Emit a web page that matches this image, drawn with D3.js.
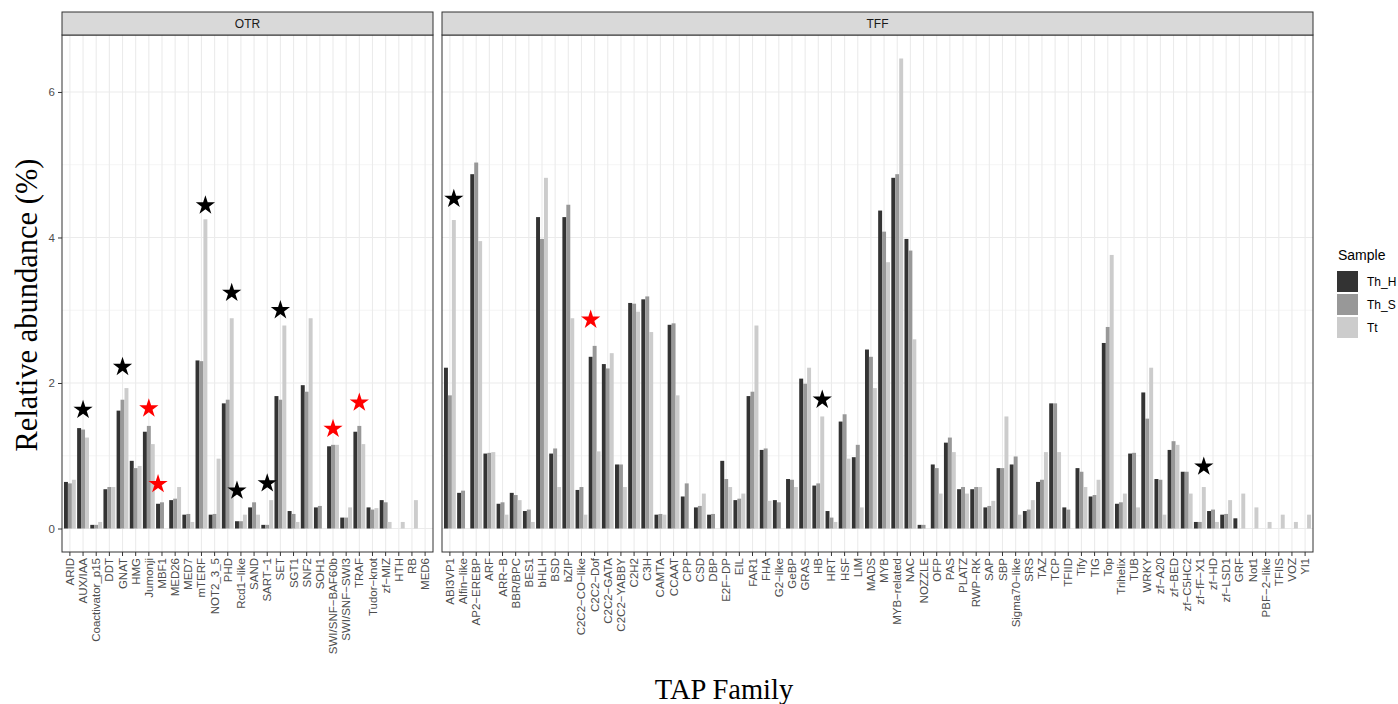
<!DOCTYPE html>
<html>
<head>
<meta charset="utf-8">
<script src="https://cdn.jsdelivr.net/npm/d3@7"></script>
<style>
  body { margin: 0; background: #fff; }
</style>
</head>
<body>
<div id="chart"></div>
<script>
// samples and their grey fills (scale_fill_grey)
const samples = ['Th_H', 'Th_S', 'Tt'];

// OTR families
const otrFamilies = ['ARID', 'AUX/IAA', 'Coactivator_p15', 'DDT', 'GNAT', 'HMG', 'Jumonji', 'MBF1', 'MED26', 'MED7',
  'mTERF', 'NOT2_3_5', 'PHD', 'Rcd1-like', 'SAND', 'SART-1', 'SET', 'SGT1', 'SNF2', 'SOH1',
  'SWI/SNF-BAF60b', 'SWI/SNF-SWI3', 'TRAF', 'Tudor-knot', 'zf-MIZ', 'HTH', 'RB', 'MED6'];
const otrThH = [0.64, 1.38, 0.05, 0.54, 1.62, 0.93, 1.33, 0.34, 0.39, 0.19,
  2.31, 0.19, 1.72, 0.10, 0.29, 0.05, 1.82, 0.24, 1.97, 0.29,
  1.13, 0.15, 1.33, 0.29, 0.39, 0, 0, 0];
const otrThS = [0.62, 1.36, 0.05, 0.57, 1.77, 0.83, 1.41, 0.36, 0.41, 0.20,
  2.30, 0.20, 1.77, 0.10, 0.36, 0.05, 1.77, 0.20, 1.88, 0.31,
  1.15, 0.15, 1.41, 0.26, 0.36, 0, 0, 0];
const otrTt = [0.67, 1.25, 0.09, 0.57, 1.93, 0.86, 1.16, 0, 0.57, 0.09,
  4.25, 0.96, 2.89, 0.19, 0.19, 0.39, 2.79, 0.09, 2.89, 0,
  1.15, 0.29, 1.16, 0.28, 0.09, 0.09, 0.39, 0];

// TFF families
const tffFamilies = ['ABI3VP1', 'Alfin-like', 'AP2-EREBP', 'ARF', 'ARR-B', 'BBR/BPC', 'BES1', 'bHLH', 'BSD', 'bZIP',
  'C2C2-CO-like', 'C2C2-Dof', 'C2C2-GATA', 'C2C2-YABBY', 'C2H2', 'C3H', 'CAMTA', 'CCAAT', 'CPP', 'CSD',
  'DBP', 'E2F-DP', 'EIL', 'FAR1', 'FHA', 'G2-like', 'GeBP', 'GRAS', 'HB', 'HRT',
  'HSF', 'LIM', 'MADS', 'MYB', 'MYB-related', 'NAC', 'NOZZLE', 'OFP', 'PAS', 'PLATZ',
  'RWP-RK', 'SAP', 'SBP', 'Sigma70-like', 'SRS', 'TAZ', 'TCP', 'TFIID', 'Tify', 'TIG',
  'Top', 'Trihelix', 'TUB', 'WRKY', 'zf-A20', 'zf-BED', 'zf-C5HC2', 'zf-fF-X1', 'zf-HD', 'zf-LSD1',
  'GRF', 'Not1', 'PBF-2-like', 'TFIIS', 'VOZ', 'Yl1'];
const tffThH = [2.21, 0.49, 4.87, 1.03, 0.34, 0.49, 0.24, 4.28, 1.03, 4.28,
  0.53, 2.36, 2.26, 0.88, 3.10, 3.15, 0.19, 2.80, 0.44, 0.29,
  0.19, 0.93, 0.39, 1.82, 1.08, 0.39, 0.68, 2.06, 0.59, 0.24,
  1.47, 0.98, 2.46, 4.37, 4.82, 3.98, 0.05, 0.88, 1.18, 0.54,
  0.54, 0.29, 0.83, 0.88, 0.24, 0.64, 1.72, 0.29, 0.83, 0.44,
  2.55, 0.34, 1.03, 1.87, 0.68, 1.08, 0.78, 0.09, 0.24, 0.19,
  0.14, 0, 0, 0, 0, 0];
const tffThS = [1.83, 0.52, 5.03, 1.04, 0.36, 0.46, 0.26, 3.98, 1.10, 4.45,
  0.57, 2.51, 2.20, 0.88, 3.09, 3.19, 0.20, 2.82, 0.62, 0.31,
  0.20, 0.68, 0.41, 1.88, 1.10, 0.36, 0.67, 1.99, 0.62, 0.15,
  1.57, 1.15, 2.36, 4.08, 4.87, 3.82, 0.05, 0.83, 1.25, 0.57,
  0.57, 0.31, 0.83, 0.99, 0.26, 0.67, 1.72, 0.26, 0.78, 0.46,
  2.77, 0.36, 1.04, 1.51, 0.67, 1.20, 0.78, 0.09, 0.26, 0.20,
  0, 0, 0, 0, 0, 0];
const tffTt = [4.24, 0, 3.95, 1.05, 0.19, 0.39, 0.09, 4.82, 0.57, 2.89,
  0.19, 1.06, 2.41, 0.57, 2.98, 2.70, 0.19, 1.83, 0, 0.48,
  0, 0.57, 0.48, 2.79, 0.38, 0, 0.57, 2.21, 1.54, 0.09,
  0.96, 0.29, 1.93, 3.66, 6.46, 2.60, 0, 0.48, 1.05, 0.48,
  0.57, 0.38, 1.54, 0.19, 0.39, 1.05, 1.05, 0, 0.57, 0.67,
  3.76, 0.48, 0.29, 2.21, 0.19, 1.15, 0.48, 0.57, 0.09, 0.39,
  0.48, 0.29, 0.09, 0.19, 0.09, 0.19];

// significance stars
const starFamilies = ['AUX/IAA', 'GNAT', 'Jumonji', 'MBF1', 'mTERF', 'PHD', 'Rcd1-like', 'SART-1', 'SET',
  'SWI/SNF-BAF60b', 'TRAF', 'ABI3VP1', 'C2C2-Dof', 'HB', 'zf-fF-X1'];
const starHeights = [1.63, 2.22, 1.65, 0.61, 4.44, 3.24, 0.52, 0.62, 3.00, 1.37, 1.73, 4.53, 2.87, 1.77, 0.85];
const starKinds = ['black', 'black', 'red', 'red', 'black', 'black', 'black', 'black', 'black',
  'red', 'red', 'black', 'red', 'black', 'black'];
const starAbove = ['Th_S', 'Th_S', 'Th_S', 'Th_H', 'Tt', 'Tt', 'Th_H', 'Th_S', 'Th_S',
  'Th_S', 'Th_S', 'Tt', 'Th_H', 'Tt', 'Tt'];

const yTicks = [0, 2, 4, 6];
const yMinor = [1, 3, 5];

const W = 1398, H = 704;
const plotTop = 35, plotBottom = 552, stripH = 23;
const SANS = '"Liberation Sans", Arial, Helvetica, sans-serif';
const SERIF = '"Liberation Serif", "Times New Roman", serif';

const fill = d3.scaleOrdinal().domain(samples).range(['#333333', '#989898', '#cccccc']);
const starFill = d3.scaleOrdinal().domain(['black', 'red']).range(['#000000', '#ff0000']);

const y = d3.scaleLinear().domain([-0.323, 6.783]).range([plotBottom, plotTop]);

const panels = [
  { name: 'OTR', families: otrFamilies, vals: [otrThH, otrThS, otrTt], x0: 62, x1: 433 },
  { name: 'TFF', families: tffFamilies, vals: [tffThH, tffThS, tffTt], x0: 442, x1: 1313 }
];

const dash = s => s.replace(/-/g, '\u2212');

const svg = d3.select('#chart').append('svg')
  .attr('width', W)
  .attr('height', H);

svg.append('rect').attr('width', W).attr('height', H).attr('fill', '#fff');

panels.forEach(p => {
  const x = d3.scaleBand()
    .domain(p.families)
    .range([p.x0, p.x1])
    .paddingInner(0)
    .paddingOuter(0.1);
  const sub = d3.scaleBand()
    .domain(samples)
    .range([x.bandwidth() * 0.05, x.bandwidth() * 0.95]);
  p.x = x;
  p.sub = sub;

  const g = svg.append('g');

  // grid
  g.selectAll('.minor').data(yMinor).join('line')
    .attr('x1', p.x0).attr('x2', p.x1)
    .attr('y1', d => y(d)).attr('y2', d => y(d))
    .attr('stroke', '#ebebeb').attr('stroke-width', 0.55);
  g.selectAll('.major').data(yTicks).join('line')
    .attr('x1', p.x0).attr('x2', p.x1)
    .attr('y1', d => y(d)).attr('y2', d => y(d))
    .attr('stroke', '#ebebeb').attr('stroke-width', 1.1);
  g.selectAll('.vgrid').data(p.families).join('line')
    .attr('x1', d => x(d) + x.bandwidth() / 2).attr('x2', d => x(d) + x.bandwidth() / 2)
    .attr('y1', plotTop).attr('y2', plotBottom)
    .attr('stroke', '#ebebeb').attr('stroke-width', 1.1);

  // bars
  const rows = [];
  p.families.forEach((f, i) => {
    samples.forEach((s, j) => rows.push({ family: f, sample: s, value: p.vals[j][i] }));
  });
  g.selectAll('.bar').data(rows.filter(d => d.value > 0)).join('rect')
    .attr('x', d => x(d.family) + sub(d.sample))
    .attr('width', sub.bandwidth())
    .attr('y', d => y(d.value))
    .attr('height', d => y(0) - y(d.value))
    .attr('fill', d => fill(d.sample));

  // panel border
  g.append('rect')
    .attr('x', p.x0).attr('y', plotTop)
    .attr('width', p.x1 - p.x0).attr('height', plotBottom - plotTop)
    .attr('fill', 'none').attr('stroke', '#333333').attr('stroke-width', 1);

  // strip
  g.append('rect')
    .attr('x', p.x0).attr('y', plotTop - stripH)
    .attr('width', p.x1 - p.x0).attr('height', stripH)
    .attr('fill', '#d9d9d9').attr('stroke', '#333333').attr('stroke-width', 1);
  g.append('text')
    .attr('x', (p.x0 + p.x1) / 2).attr('y', plotTop - stripH / 2)
    .attr('text-anchor', 'middle').attr('dominant-baseline', 'central')
    .style('font-family', SANS).style('font-size', '12px')
    .attr('fill', '#1a1a1a')
    .text(p.name);

  // x axis
  const xa = g.append('g')
    .attr('transform', `translate(0,${plotBottom})`)
    .call(d3.axisBottom(x).tickSize(4).tickPadding(2).tickFormat(dash));
  xa.select('.domain').remove();
  xa.selectAll('.tick line').attr('stroke', '#333333');
  xa.selectAll('.tick text')
    .attr('fill', '#4d4d4d')
    .style('font-size', '11.5px')
    .style('font-family', SANS)
    .attr('transform', 'rotate(-90)')
    .attr('text-anchor', 'end')
    .attr('x', -6)
    .attr('y', 0)
    .attr('dy', '0.35em');
});

// y axis on first panel
const ya = svg.append('g')
  .attr('transform', `translate(${panels[0].x0},0)`)
  .call(d3.axisLeft(y).tickValues(yTicks).tickSize(4).tickPadding(3));
ya.select('.domain').remove();
ya.selectAll('.tick line').attr('stroke', '#333333');
ya.selectAll('.tick text')
  .attr('fill', '#4d4d4d')
  .style('font-size', '11.5px')
  .style('font-family', SANS);

// stars
const star = d3.symbol().type(d3.symbolStar).size(115);
const starRows = starFamilies.map((f, i) => {
  const p = panels.find(q => q.families.includes(f));
  return {
    cx: p.x(f) + p.sub(starAbove[i]) + p.sub.bandwidth() / 2,
    cy: y(starHeights[i]),
    kind: starKinds[i]
  };
});
svg.selectAll('.star').data(starRows).join('path')
  .attr('d', star)
  .attr('transform', d => `translate(${d.cx},${d.cy})`)
  .attr('fill', d => starFill(d.kind));

// axis titles
svg.append('text')
  .attr('x', 724).attr('y', 699)
  .attr('text-anchor', 'middle')
  .style('font-family', SERIF)
  .style('font-size', '28.5px')
  .attr('fill', '#000')
  .text('TAP Family');

svg.append('text')
  .attr('transform', 'translate(37,305) rotate(-90)')
  .attr('text-anchor', 'middle')
  .style('font-family', SERIF)
  .style('font-size', '30.5px')
  .attr('fill', '#000')
  .text('Relative abundance (%)');

// legend
const lg = svg.append('g').attr('transform', 'translate(1337,0)');
lg.append('text')
  .attr('x', 1).attr('y', 260)
  .style('font-family', SANS).style('font-size', '14px')
  .attr('fill', '#000')
  .text('Sample');
const items = lg.selectAll('.item').data(samples).join('g')
  .attr('transform', (d, i) => `translate(0,${271 + i * 23})`);
items.append('rect')
  .attr('width', 21).attr('height', 21)
  .attr('fill', d => fill(d));
items.append('text')
  .attr('x', 30).attr('y', 11)
  .attr('dominant-baseline', 'central')
  .style('font-family', SANS).style('font-size', '12px')
  .attr('fill', '#000')
  .text(d => d);
</script>
</body>
</html>
